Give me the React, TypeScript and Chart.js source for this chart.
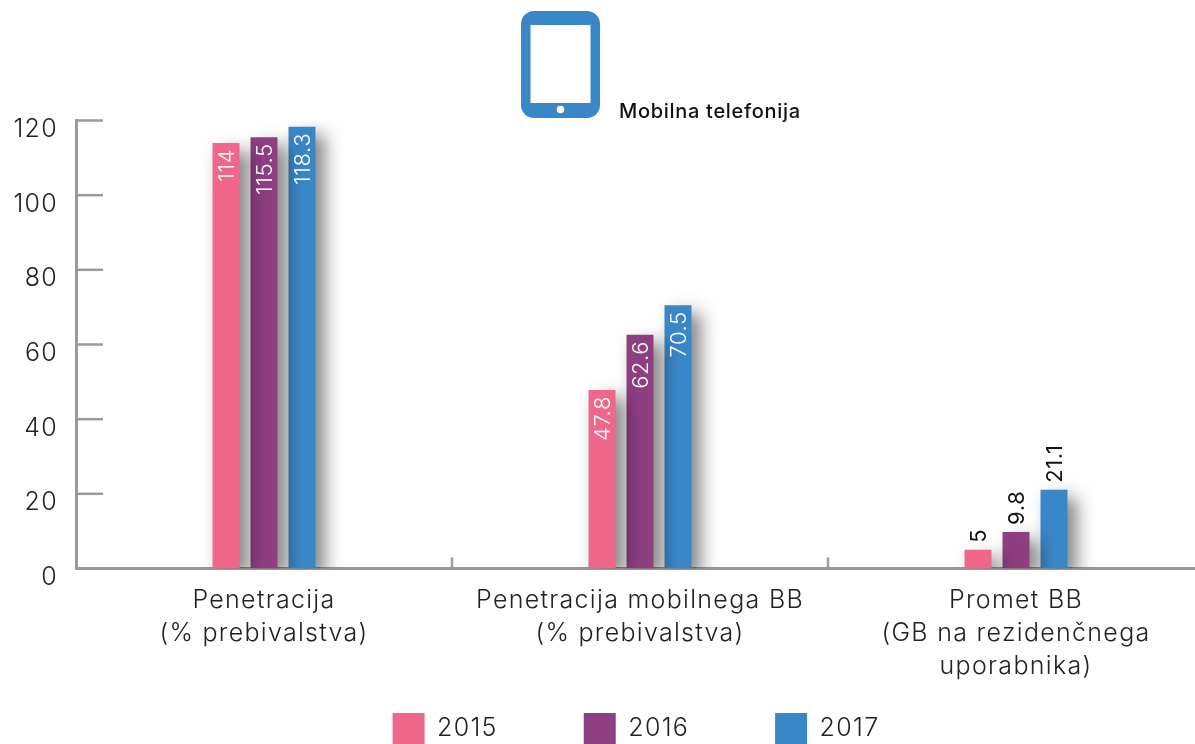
import React, { useEffect, useRef } from "react";
import { Chart, registerables } from "chart.js";

Chart.register(...registerables);

const categories = [
  ["Penetracija", "(% prebivalstva)"],
  ["Penetracija mobilnega BB", "(% prebivalstva)"],
  ["Promet BB", "(GB na rezidenčnega", "uporabnika)"],
];
const years = ["2015", "2016", "2017"];
const values2015 = [114, 47.8, 5];
const values2016 = [115.5, 62.6, 9.8];
const values2017 = [118.3, 70.5, 21.1];
const colors = ["#EF678B", "#8E3F80", "#3A87C8"];
const FONT = "Inter";
const AXIS = "#9a9a9a";

const spacing = {
  id: "spacing",
  beforeLayout(chart: any) {
    chart.ctx.letterSpacing = "1.3px";
  },
  beforeDraw(chart: any) {
    chart.ctx.letterSpacing = "1.3px";
  },
  afterLayout(chart: any) {
    // room for the three-line category labels, which are clipped to the scale box
    chart.scales.x.bottom = 705;
    // the legend centres itself with its item padding counted on one side only
    chart.legend.left += 34;
    chart.legend.right += 34;
  },
};

const barShadow = {
  id: "barShadow",
  beforeDatasetsDraw(chart: any) {
    const c = chart.ctx;
    c.save();
    c.shadowColor = "rgba(0,0,0,0.5)";
    c.shadowBlur = 18;
    c.shadowOffsetX = 9;
    c.shadowOffsetY = 8;
  },
  afterDatasetsDraw(chart: any) {
    chart.ctx.restore();
  },
};

const axisTicks = {
  id: "axisTicks",
  beforeDatasetsDraw(chart: any) {
    const c = chart.ctx;
    const { x, y } = chart.scales;
    c.save();
    c.strokeStyle = AXIS;
    c.lineWidth = 2.5;
    y.ticks.forEach((t: any) => {
      const p = y.getPixelForValue(t.value);
      c.beginPath();
      c.moveTo(x.left, p);
      c.lineTo(x.left + 27, p);
      c.stroke();
    });
    [1, 2].forEach((i) => {
      const p = (x.getPixelForTick(i - 1) + x.getPixelForTick(i)) / 2;
      c.beginPath();
      c.moveTo(p, y.bottom);
      c.lineTo(p, y.bottom - 11);
      c.stroke();
    });
    c.restore();
  },
};

const barLabels = {
  id: "barLabels",
  afterDatasetsDraw(chart: any) {
    const c = chart.ctx;
    chart.data.datasets.forEach((ds: any, di: number) => {
      chart.getDatasetMeta(di).data.forEach((bar: any, i: number) => {
        const inside = i < 2;
        c.save();
        c.translate(bar.x, bar.y + (inside ? 6 : -7));
        c.rotate(-Math.PI / 2);
        c.font = `${inside ? 300 : 400} 22px ${FONT}`;
        c.letterSpacing = "0.6px";
        c.fillStyle = inside ? "#ffffff" : "#111111";
        c.textAlign = inside ? "right" : "left";
        c.textBaseline = "middle";
        c.fillText(String(ds.data[i]), 0, 1);
        c.restore();
      });
    });
  },
};

export default function App() {
  const ref = useRef<HTMLCanvasElement>(null);
  useEffect(() => {
    const chart = new Chart(ref.current!, {
      type: "bar",
      data: {
        labels: categories,
        datasets: [values2015, values2016, values2017].map((data, i) => ({
          label: years[i],
          data,
          backgroundColor: colors[i],
          categoryPercentage: 0.303,
          barPercentage: 0.71,
        })),
      },
      options: {
        animation: false,
        responsive: false,
        layout: { padding: { left: 0, right: 76, top: 120.5, bottom: 0 } },
        plugins: {
          tooltip: { enabled: false },
          legend: {
            position: "bottom",
            maxHeight: 125,
            labels: {
              boxWidth: 32,
              boxHeight: 31,
              padding: 86,
              color: "#222",
              font: { family: FONT, size: 25, weight: "300" },
              generateLabels: (ch: any) =>
                ch.data.datasets.map((d: any, i: number) => ({
                  text: d.label,
                  fillStyle: d.backgroundColor,
                  strokeStyle: d.backgroundColor,
                  lineWidth: 0,
                  fontColor: "#222",
                  datasetIndex: i,
                })),
            },
          },
        },
        scales: {
          x: {
            afterFit: (s: any) => { s.height = 58.5; },
            grid: { display: false, drawTicks: false },
            border: { display: true, color: AXIS, width: 3 },
            ticks: {
              autoSkip: false,
              maxRotation: 0,
              minRotation: 0,
              padding: 15,
              color: "#222",
              font: { family: FONT, size: 25, weight: "300", lineHeight: 1.32 },
            },
          },
          y: {
            min: 0,
            max: 120,
            afterFit: (s: any) => { s.width = 76; },
            grid: { display: false, drawTicks: false },
            border: { display: true, color: AXIS, width: 3 },
            ticks: {
              stepSize: 20,
              padding: 18,
              labelOffset: 9,
              color: "#222",
              font: { family: FONT, size: 25, weight: "300" },
            },
          },
        },
      },
      plugins: [spacing, axisTicks, barShadow, barLabels],
    } as any);
    return () => chart.destroy();
  }, []);
  return (
    <div style={{ position: "fixed", left: 0, top: 0, width: 1195, height: 744, overflow: "hidden", background: "#fff" }}>
      <canvas ref={ref} width={1280} height={752} style={{ display: "block" }} />
      <svg style={{ position: "absolute", left: 521, top: 11 }} width={79} height={107} viewBox="0 0 79 107">
        <rect width="79" height="107" rx="13" fill="#3A87C8" />
        <rect x="9.5" y="14" width="60" height="78" fill="#fff" />
        <circle cx="39.5" cy="98.5" r="3.8" fill="#fff" />
      </svg>
      <div style={{ position: "absolute", left: 619, top: 98, fontFamily: FONT, fontSize: 20, fontWeight: 500, letterSpacing: 0.7, color: "#111", whiteSpace: "nowrap", lineHeight: "26px" }}>
        Mobilna telefonija
      </div>
    </div>
  );
}
